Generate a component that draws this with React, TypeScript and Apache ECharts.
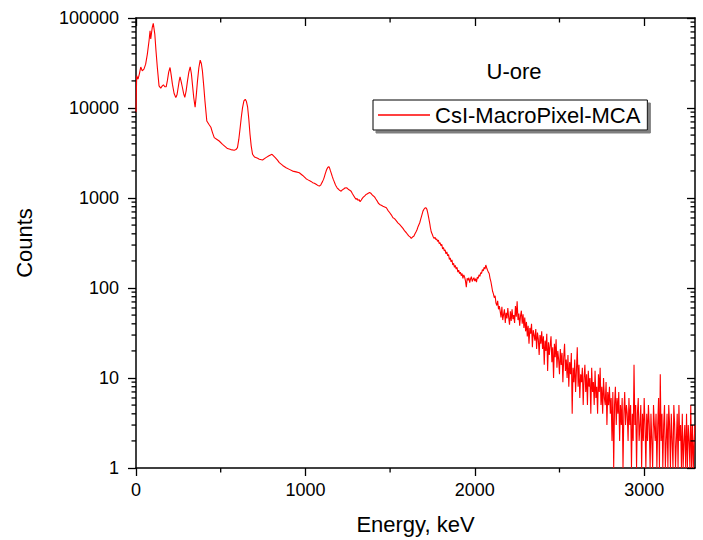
import React, { useEffect, useRef } from "react";
import * as echarts from "echarts";

// ---- data ----
const seriesName = "CsI-MacroPixel-MCA";
const sampleLabel = "U-ore";
const xAxisTitle = "Energy, keV";
const yAxisTitle = "Counts";

// [energy keV, counts] — peak region (irregular spacing)
const lowSpectrum: [number, number][] = [
  [0, 9000], [4, 22800], [12, 20900], [20, 24000], [28, 28500], [37, 25900], [47, 27000],
  [57, 30700], [67, 39700], [77, 55900], [83, 72200], [87, 58400], [96, 78800], [102, 87000],
  [111, 66300], [118, 43200], [126, 28200], [136, 17600], [146, 16600], [154, 17500],
  [162, 18100], [170, 17200], [178, 17200], [185, 20000], [193, 25000], [201, 28200],
  [208, 23000], [215, 18400], [225, 14500], [235, 13100], [242, 14000], [249, 16900],
  [255, 20000], [260, 22200], [267, 19500], [274, 16900], [281, 14500], [288, 13100],
  [296, 15500], [304, 20000], [312, 25000], [320, 28700], [327, 24000], [333, 18400],
  [341, 13000], [349, 10200], [356, 14000], [363, 20000], [371, 28000], [379, 34100],
  [386, 31000], [392, 25900], [400, 17500], [407, 12000], [418, 7180], [430, 6600],
  [442, 6110], [452, 5300], [462, 4690], [476, 4500], [491, 4300], [511, 3950], [525, 3750],
  [540, 3540], [560, 3450], [580, 3390], [590, 3450], [599, 3630], [607, 4500], [615, 6070],
  [622, 8000], [629, 10100], [637, 12000], [645, 12500], [652, 11800], [659, 10200],
  [666, 7500], [673, 5110], [680, 3800], [688, 3060], [700, 2850], [718, 2760], [728, 2690],
  [747, 2640], [767, 2810], [785, 2950], [803, 3060], [822, 2810], [834, 2650], [846, 2470],
  [866, 2300], [886, 2170], [905, 2080], [925, 1990], [945, 1950], [964, 1910], [984, 1780],
  [1004, 1640], [1013, 1600], [1023, 1560], [1033, 1530], [1043, 1480], [1053, 1460],
  [1063, 1420], [1073, 1380], [1083, 1360], [1090, 1390], [1095, 1450], [1101, 1520],
  [1107, 1610], [1112, 1720], [1117, 1850], [1122, 1980], [1126, 2080], [1132, 2180],
  [1138, 2230], [1143, 2150], [1148, 2000], [1153, 1880], [1158, 1750], [1164, 1620],
  [1170, 1520], [1176, 1420], [1181, 1360], [1188, 1290], [1196, 1250], [1204, 1210],
  [1211, 1190], [1218, 1230], [1226, 1260], [1233, 1290], [1241, 1300], [1248, 1280],
  [1255, 1240], [1262, 1220], [1270, 1190], [1277, 1120], [1285, 1060], [1292, 1010],
  [1300, 965], [1305, 990], [1311, 940], [1317, 960], [1323, 910], [1330, 950], [1336, 990],
  [1342, 1020], [1349, 1050], [1357, 1090], [1364, 1110], [1371, 1130], [1379, 1150],
  [1386, 1130], [1393, 1090], [1400, 1060], [1408, 1030], [1415, 980], [1423, 930],
  [1430, 880], [1438, 849], [1448, 830], [1458, 810], [1468, 795], [1478, 780], [1487, 730],
  [1497, 690], [1507, 650], [1517, 604], [1526, 590], [1536, 560], [1546, 530], [1556, 508],
  [1566, 485], [1576, 460], [1586, 430], [1596, 411], [1603, 395], [1610, 380], [1618, 370],
  [1625, 355], [1632, 368], [1640, 375], [1647, 400], [1655, 428], [1660, 450], [1665, 480],
  [1670, 505], [1675, 531], [1680, 575], [1685, 620], [1690, 670], [1694, 715], [1700, 750],
  [1705, 770], [1710, 780], [1714, 770], [1717, 750], [1721, 700], [1724, 657], [1728, 600],
  [1731, 560], [1735, 510], [1738, 467], [1742, 430], [1745, 410], [1749, 395], [1753, 377],
  [1755, 372], [1760, 355], [1765, 366], [1770, 345], [1775, 352], [1780, 330], [1785, 340],
  [1790, 312], [1795, 318], [1800, 296], [1805, 305], [1810, 272], [1815, 282], [1820, 258],
  [1825, 266], [1830, 240], [1835, 252], [1840, 228], [1845, 236], [1850, 208], [1855, 216],
  [1860, 195], [1865, 205], [1870, 180], [1875, 188], [1880, 170], [1885, 178], [1890, 162],
  [1895, 170], [1900, 150], [1905, 158], [1910, 144], [1915, 150], [1920, 137], [1925, 145],
  [1930, 128], [1935, 140], [1940, 132], [1945, 120], [1950, 102], [1955, 128], [1960, 122],
  [1965, 130], [1970, 115], [1975, 126], [1980, 134], [1985, 118], [1990, 125], [1995, 130],
  [2000, 119], [2005, 127], [2010, 116], [2015, 132], [2020, 128], [2025, 140], [2030, 135],
  [2035, 148], [2040, 145], [2045, 160], [2050, 155], [2055, 170], [2060, 162], [2065, 180],
  [2070, 168], [2075, 158], [2080, 150], [2085, 145], [2090, 128], [2095, 118], [2100, 104],
  [2105, 92], [2110, 86], [2115, 78], [2120, 82], [2125, 68], [2130, 64], [2135, 72],
  [2140, 58], [2145, 63],
];

// noisy tail: one value per channel, from 2150 keV in 5 keV steps
const tailStartKeV = 2150;
const tailStepKeV = 5;
const tailCounts = [
  55, 47, 62, 44, 51, 58, 41, 53, 46, 60, // 2150
  47, 39, 55, 43, 58, 45, 50, 41, 63, 48, // 2200
  71, 44, 52, 38, 49, 56, 40, 51, 36, 47, // 2250
  33, 42, 29, 38, 24, 36, 31, 40, 22, 34, // 2300
  30, 26, 35, 21, 32, 27, 18, 30, 24, 33, // 2350
  21, 29, 14, 26, 20, 31, 12, 25, 18, 23, // 2400
  29, 15, 22, 10, 24, 17, 27, 13, 20, 16, // 2450
  11, 21, 14, 19, 9, 17, 24, 12, 16, 10, // 2500
  18, 8, 15, 11, 19, 4, 13, 9, 16, 7, // 2550
  12, 22, 8, 14, 6, 11, 9, 13, 5, 10, // 2600
  14, 7, 11, 5, 12, 8, 10, 4, 13, 7, // 2650
  9, 5, 12, 6, 8, 4, 11, 7, 13, 5, // 2700
  8, 4, 10, 6, 5, 9, 3, 7, 5, 8, // 2750
  4, 6, 2, 7, 1, 5, 8, 3, 6, 4, // 2800
  7, 2, 5, 3, 6, 1, 4, 7, 3, 5, // 2850
  4, 2, 6, 3, 5, 1, 4, 2, 14, 3, // 2900
  5, 1, 4, 6, 2, 3, 5, 1, 4, 2, // 2950
  6, 3, 1, 4, 2, 5, 3, 1, 4, 2, // 3000
  1, 5, 3, 2, 4, 1, 3, 6, 1, 11, // 3050
  2, 4, 1, 3, 5, 1, 2, 4, 1, 5, // 3100
  3, 1, 4, 2, 1, 5, 3, 1, 2, 4, // 3150
  1, 5, 2, 3, 1, 4, 1, 2, 3, 1, // 3200
  4, 1, 3, 2, 1, 5, 1, 3, 1, 2, // 3250
  3, // 3300
];

const xMin = 0;
const xMax = 3300;
const xMajorTicks = [0, 1000, 2000, 3000];
const xMinorTicks = [500, 1500, 2500];
const yMin = 1;
const yMax = 100000;
const yDecades = [1, 10, 100, 1000, 10000];
const yMinorMultipliers = [2, 3, 4, 5, 6, 7, 8, 9];

const FONT = "'Liberation Sans', Arial, sans-serif";

export default function App() {
  const ref = useRef<HTMLDivElement>(null);

  useEffect(() => {
    if (!ref.current) return;
    const chart = echarts.init(ref.current, undefined, { renderer: "svg" });

    const tailData: [number, number][] = tailCounts.map((c, i) => [
      tailStartKeV + i * tailStepKeV,
      c,
    ]);
    const spectrum = [...lowSpectrum, ...tailData];

    const yMinorTicks: number[] = [];
    yDecades.forEach((d) => yMinorMultipliers.forEach((m) => yMinorTicks.push(d * m)));

    const tickStyle = { stroke: "#000", lineWidth: 1.3 };

    chart.setOption({
      animation: false,
      backgroundColor: "#fff",
      grid: { left: 136, right: 8, top: 18, bottom: 72, containLabel: false },
      legend: {
        data: [seriesName],
        left: 373,
        top: 100,
        padding: [4, 7, 4, 5],
        itemWidth: 52,
        itemHeight: 1.5,
        icon: "rect",
        textStyle: { fontSize: 22, color: "#000", fontFamily: FONT },
        borderColor: "#000",
        borderWidth: 1,
        backgroundColor: "#fff",
        shadowColor: "#7f7f7f",
        shadowOffsetX: 3,
        shadowOffsetY: 3,
        shadowBlur: 0,
      },
      graphic: [
        {
          type: "text",
          x: 514,
          y: 71,
          style: {
            text: sampleLabel,
            font: `22px ${FONT}`,
            fill: "#000",
            textAlign: "center",
            textVerticalAlign: "middle",
          },
        },
      ],
      xAxis: [
        {
          type: "value",
          position: "bottom",
          min: xMin,
          max: xMax,
          interval: 1000,
          axisLine: { show: true, onZero: false, lineStyle: { color: "#000", width: 1.5 } },
          axisTick: { show: true, inside: false, length: 8, customValues: xMajorTicks, lineStyle: { color: "#000", width: 1.3 } },
          axisLabel: {
            fontSize: 18,
            color: "#000",
            fontFamily: FONT,
            margin: 13,
            customValues: xMajorTicks,
            formatter: (v: number) => String(Math.round(v)),
          },
          splitLine: { show: false },
          name: xAxisTitle,
          nameLocation: "middle",
          nameGap: 45,
          nameTextStyle: { fontSize: 22, color: "#000", fontFamily: FONT },
        },
        {
          type: "value",
          position: "top",
          min: xMin,
          max: xMax,
          interval: 1000,
          axisLine: { show: true, onZero: false, lineStyle: { color: "#000", width: 1.5 } },
          axisTick: { show: true, inside: true, length: 8, customValues: xMajorTicks, lineStyle: { color: "#000", width: 1.3 } },
          axisLabel: { show: false },
          splitLine: { show: false },
        },
      ],
      yAxis: [
        {
          type: "log",
          logBase: 10,
          position: "left",
          min: yMin,
          max: yMax,
          axisLine: { show: true, onZero: false, lineStyle: { color: "#000", width: 1.5 } },
          axisTick: { show: true, inside: false, length: 8, lineStyle: { color: "#000", width: 1.3 } },
          axisLabel: {
            fontSize: 18,
            color: "#000",
            fontFamily: FONT,
            margin: 17,
            formatter: (v: number) => String(Math.round(v)),
          },
          splitLine: { show: false },
          name: yAxisTitle,
          nameLocation: "middle",
          nameGap: 101,
          nameRotate: 90,
          nameTextStyle: { fontSize: 22, color: "#000", fontFamily: FONT },
        },
        {
          type: "log",
          logBase: 10,
          position: "right",
          min: yMin,
          max: yMax,
          axisLine: { show: true, onZero: false, lineStyle: { color: "#000", width: 1.5 } },
          axisTick: { show: true, inside: true, length: 8, lineStyle: { color: "#000", width: 1.3 } },
          axisLabel: { show: false },
          splitLine: { show: false },
        },
      ],
      series: [
        {
          name: seriesName,
          type: "line",
          xAxisIndex: 0,
          yAxisIndex: 0,
          data: spectrum,
          showSymbol: false,
          symbol: "none",
          color: "#ff0000",
          lineStyle: { color: "#ff0000", width: 1.1 },
          clip: true,
          z: 3,
        },
        {
          name: "yMinorTicks",
          type: "custom",
          xAxisIndex: 0,
          yAxisIndex: 0,
          silent: true,
          clip: false,
          z: 6,
          data: yMinorTicks.map((v) => [xMin, v]),
          encode: { x: 0, y: 1 },
          renderItem: (_p: any, api: any) => {
            const v = api.value(1);
            const l = api.coord([xMin, v]);
            const r = api.coord([xMax, v]);
            return {
              type: "group",
              children: [
                { type: "line", shape: { x1: l[0] - 4.5, y1: l[1], x2: l[0], y2: l[1] }, style: tickStyle },
                { type: "line", shape: { x1: r[0] - 4.5, y1: r[1], x2: r[0], y2: r[1] }, style: tickStyle },
              ],
            };
          },
        },
        {
          name: "xMinorTicks",
          type: "custom",
          xAxisIndex: 0,
          yAxisIndex: 0,
          silent: true,
          clip: false,
          z: 6,
          data: xMinorTicks.map((v) => [v, yMin]),
          encode: { x: 0, y: 1 },
          renderItem: (_p: any, api: any) => {
            const e = api.value(0);
            const b = api.coord([e, yMin]);
            const t = api.coord([e, yMax]);
            return {
              type: "group",
              children: [
                { type: "line", shape: { x1: b[0], y1: b[1], x2: b[0], y2: b[1] + 4.5 }, style: tickStyle },
                { type: "line", shape: { x1: t[0], y1: t[1], x2: t[0], y2: t[1] + 4.5 }, style: tickStyle },
              ],
            };
          },
        },
      ],
    });

    return () => chart.dispose();
  }, []);

  return (
    <div
      ref={ref}
      style={{ position: "absolute", left: 0, top: 0, width: 703, height: 540, background: "#fff" }}
    />
  );
}
